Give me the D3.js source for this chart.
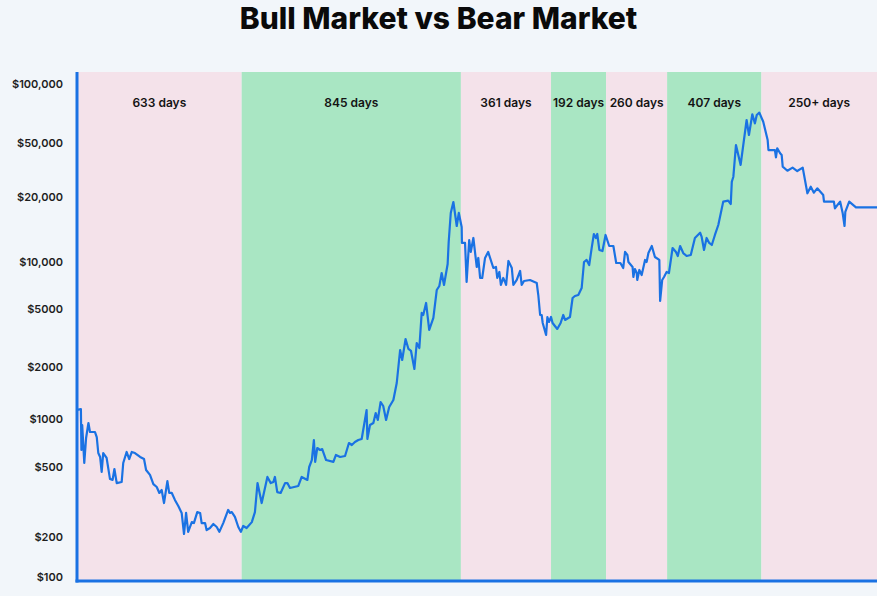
<!DOCTYPE html>
<html>
<head>
<meta charset="utf-8">
<title>Bull Market vs Bear Market</title>
<script src="https://d3js.org/d3.v7.min.js"></script>
<style>
  html, body { margin: 0; padding: 0; background: #f2f6fa; }
  svg { display: block; }
  text { font-family: Inter, "Open Sans", sans-serif; }
</style>
</head>
<body>
<div id="chart"></div>
<script>
"use strict"

// market phases (edges in days from start)
const bandEdges = [0, 634, 1478, 1825, 2037, 2272, 2635, 3080]
const bandLabels = ["633 days", "845 days", "361 days", "192 days", "260 days", "407 days", "250+ days"]
const bandKinds = ["bear", "bull", "bear", "bull", "bear", "bull", "bear"]

// price axis ticks
const yTicks = [100, 200, 500, 1000, 2000, 5000, 10000, 20000, 50000, 100000]
const yTickLabels = ["$100", "$200", "$500", "$1000", "$2000", "$5000", "$10,000", "$20,000", "$50,000", "$100,000"]

// price series: day from start, price in $
const days = [0, 15, 17, 20, 28, 35, 44, 50, 69, 76, 82, 89, 95, 101, 114, 127, 137, 144, 153, 172,
  178, 191, 201, 211, 223, 243, 258, 266, 281, 294, 307, 317, 326, 335, 348, 355, 365, 377, 390, 403,
  412, 420, 428, 442, 450, 463, 474, 480, 493, 499, 512, 525, 538, 548, 563, 582, 589, 596, 608, 621,
  631, 640, 653, 673, 685, 695, 711, 733, 746, 756, 762, 771, 784, 801, 810, 820, 852, 865, 887, 894,
  904, 912, 917, 925, 936, 944, 959, 987, 997, 1013, 1032, 1047, 1058, 1070, 1083, 1096, 1115, 1118, 1128, 1141,
  1150, 1158, 1169, 1179, 1190, 1202, 1218, 1231, 1244, 1252, 1265, 1276, 1286, 1299, 1308, 1318, 1327, 1333, 1344, 1356,
  1372, 1385, 1395, 1404, 1413, 1427, 1431, 1439, 1449, 1462, 1470, 1481, 1482, 1494, 1500, 1510, 1516, 1526, 1539, 1545,
  1552, 1560, 1571, 1583, 1603, 1613, 1618, 1626, 1632, 1641, 1648, 1652, 1661, 1674, 1680, 1693, 1706, 1712, 1721, 1744,
  1770, 1776, 1783, 1789, 1793, 1806, 1811, 1817, 1825, 1831, 1849, 1862, 1872, 1879, 1898, 1908, 1917, 1930, 1943, 1952,
  1962, 1972, 1982, 1990, 1998, 2003, 2011, 2023, 2035, 2049, 2065, 2076, 2092, 2103, 2110, 2119, 2123, 2139, 2142, 2148,
  2155, 2157, 2165, 2174, 2187, 2193, 2200, 2213, 2225, 2242, 2245, 2253, 2260, 2270, 2279, 2293, 2306, 2313, 2322, 2334,
  2347, 2363, 2379, 2399, 2405, 2414, 2424, 2434, 2444, 2456, 2469, 2488, 2507, 2517, 2521, 2527, 2537, 2555, 2578, 2587,
  2600, 2610, 2617, 2627, 2642, 2659, 2662, 2687, 2691, 2696, 2707, 2713, 2717, 2735, 2755, 2773, 2794, 2812, 2825, 2837,
  2850, 2873, 2876, 2914, 2918, 2938, 2948, 2955, 2958, 2973, 2999, 3080]
const prices = [1130, 1140, 639, 917, 530, 760, 944, 829, 829, 771, 612, 578, 469, 612, 570, 427, 422, 487, 405, 411,
  530, 621, 561, 621, 612, 578, 561, 481, 451, 400, 385, 356, 370, 312, 416, 356, 356, 325, 300, 274,
  208, 274, 214, 243, 240, 277, 274, 240, 240, 219, 225, 237, 228, 214, 240, 285, 274, 277, 260, 228,
  214, 231, 225, 243, 277, 405, 312, 439, 405, 411, 439, 360, 356, 405, 405, 380, 390, 439, 422, 500,
  553, 738, 538, 658, 639, 648, 553, 538, 595, 578, 586, 707, 687, 717, 738, 749, 1127, 749, 917, 944,
  1083, 986, 1254, 1189, 986, 1174, 1288, 1616, 2616, 2234, 3112, 2658, 2576, 1948, 2922, 2700, 4696, 4548, 5465, 3590,
  4340, 6616, 7018, 8502, 7125, 9708, 12380, 16870, 18960, 14680, 16870, 14520, 12250, 12250, 7445, 12640, 11130, 12920, 9290, 10440,
  7900, 7900, 10440, 11130, 9155, 9290, 7900, 8630, 7125, 7900, 7445, 7125, 10110, 9155, 7125, 7670, 8760, 7125, 7555, 7670,
  7335, 6145, 4548, 4548, 4008, 3316, 4406, 4072, 4406, 4008, 3648, 4008, 4548, 4204, 4406, 5880, 6055, 6145, 6815, 10000,
  10220, 9565, 11730, 13480, 12920, 13480, 11370, 11240, 13340, 11860, 11860, 9855, 9855, 9155, 11130, 10780, 10000, 9290, 8015, 9020,
  8502, 7670, 8890, 8255, 10220, 10000, 11000, 11860, 10550, 10220, 5625, 7670, 8015, 8630, 8502, 11610, 11130, 10660, 11860, 11000,
  10660, 10780, 12920, 13670, 13060, 11370, 12920, 12250, 11990, 13340, 14840, 19040, 19230, 18560, 25920, 28220, 48340, 34440, 65500, 54950,
  70050, 63000, 69500, 71400, 64200, 51800, 44380, 44380, 39240, 45720, 42000, 40800, 33440, 31240, 32900, 31080, 32900, 21300, 23820, 21520,
  23180, 20680, 19040, 19040, 17730, 19040, 16810, 14680, 17050, 19040, 17920, 17920]

const width = 877, height = 596
const plot = {left: 77, right: 877, top: 72, bottom: 581}
const blue = "#1a72e3"

const svg = d3.select("#chart").append("svg")
  .attr("width", width)
  .attr("height", height)

const x = d3.scaleLinear()
  .domain([bandEdges[0], bandEdges[bandEdges.length - 1]])
  .range([plot.left, plot.right])

// the source chart spaces its price labels unevenly, so the log scale is piecewise
const y = d3.scaleLog()
  .domain(yTicks)
  .range([577, 537, 467, 419, 367, 309, 262, 197, 143, 84])

// title
svg.append("text")
  .attr("x", width / 2)
  .attr("y", 29)
  .attr("text-anchor", "middle")
  .style("font-size", "30px")
  .style("font-weight", 800)
  .style("fill", "#0a0a0a")
  .text("Bull Market vs Bear Market")

// phase bands
const bands = bandLabels.map((label, i) => ({
  label: label, kind: bandKinds[i], start: bandEdges[i], end: bandEdges[i + 1]
}))

svg.append("g").selectAll("rect")
  .data(bands)
  .enter().append("rect")
    .attr("x", d => x(d.start))
    .attr("y", plot.top)
    .attr("width", d => x(d.end) - x(d.start))
    .attr("height", plot.bottom - plot.top)
    .attr("fill", d => d.kind === "bull" ? "#a9e6c3" : "#f4e2ea")

svg.append("g").selectAll("text")
  .data(bands)
  .enter().append("text")
    .attr("x", d => (x(d.start) + x(d.end)) / 2)
    .attr("y", 107)
    .attr("text-anchor", "middle")
    .style("font-size", "12px")
    .style("font-weight", 600)
    .style("fill", "#141414")
    .text(d => d.label)

// price line
const line = d3.line()
  .x(d => x(d[0]))
  .y(d => y(d[1]))

svg.append("path")
  .datum(days.map((d, i) => [d, prices[i]]))
  .attr("d", line)
  .attr("fill", "none")
  .attr("stroke", blue)
  .attr("stroke-width", 2.2)
  .attr("stroke-linejoin", "round")

// y axis labels
svg.append("g").selectAll("text")
  .data(yTicks)
  .enter().append("text")
    .attr("x", 63)
    .attr("y", d => y(d))
    .attr("dy", "0.35em")
    .attr("text-anchor", "end")
    .style("font-size", "11px")
    .style("font-weight", 600)
    .style("fill", "#1e1e1e")
    .text((d, i) => yTickLabels[i])

// axis lines
svg.append("line")
  .attr("x1", plot.left).attr("x2", plot.left)
  .attr("y1", plot.top).attr("y2", plot.bottom + 1.5)
  .attr("stroke", blue).attr("stroke-width", 3)

svg.append("line")
  .attr("x1", plot.left - 1.5).attr("x2", plot.right)
  .attr("y1", plot.bottom).attr("y2", plot.bottom)
  .attr("stroke", blue).attr("stroke-width", 3)
</script>
</body>
</html>
